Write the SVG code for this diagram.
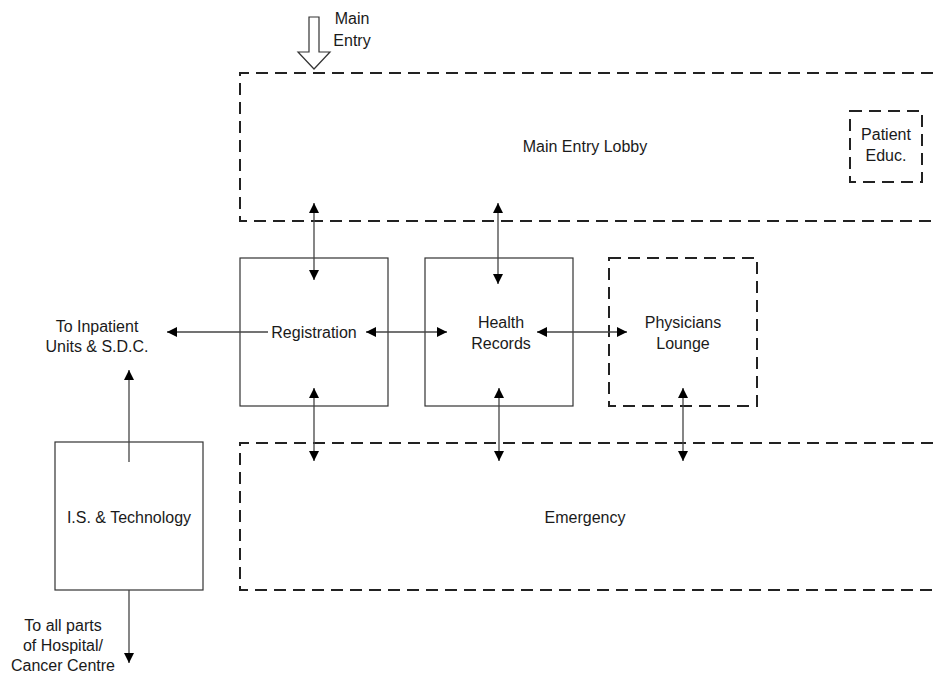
<svg xmlns="http://www.w3.org/2000/svg" width="933" height="675" viewBox="0 0 933 675">
<defs>
<style>
.box{fill:none;stroke:#333;stroke-width:1.2}
.dash{fill:none;stroke:#222;stroke-width:2;stroke-dasharray:12 7}
.ln{fill:none;stroke:#444;stroke-width:1.3}
.t{font-family:"Liberation Sans",Arial,sans-serif;font-size:16px;fill:#1a1a1a;text-anchor:middle}
</style>
<marker id="ah" viewBox="0 0 10 10" refX="10" refY="5" markerWidth="10" markerHeight="10" markerUnits="userSpaceOnUse" orient="auto-start-reverse">
<path d="M0,0 L10,5 L0,10 Z" fill="#000"/>
</marker>
</defs>
<rect width="933" height="675" fill="#fff"/>

<g id="main-entry">
<path d="M309,17 H319 V52 H330 L314,69 L298,52 H309 Z" fill="#fff" stroke="#333" stroke-width="1.2"/>
<text class="t" x="352" y="24">Main</text>
<text class="t" x="352" y="46">Entry</text>
</g>

<g id="lobby">
<path class="dash" d="M933,73 H240 V221 H933"/>
<text class="t" x="585" y="152">Main Entry Lobby</text>
</g>

<g id="patient-educ">
<rect class="dash" x="850" y="111" width="72" height="71"/>
<text class="t" x="886" y="140">Patient</text>
<text class="t" x="886" y="161">Educ.</text>
</g>

<g id="registration">
<rect class="box" x="240" y="258" width="148" height="148"/>
<text class="t" x="314" y="338">Registration</text>
</g>

<g id="health-records">
<rect class="box" x="425" y="258" width="148" height="148"/>
<text class="t" x="501" y="328">Health</text>
<text class="t" x="501" y="349">Records</text>
</g>

<g id="physicians-lounge">
<rect class="dash" x="609" y="258" width="148" height="148"/>
<text class="t" x="683" y="328">Physicians</text>
<text class="t" x="683" y="349">Lounge</text>
</g>

<g id="emergency">
<path class="dash" d="M933,443 H240 V590 H933"/>
<text class="t" x="585" y="523">Emergency</text>
</g>

<g id="is-tech">
<rect class="box" x="55" y="442" width="148" height="148"/>
<text class="t" x="129" y="523">I.S. &amp; Technology</text>
</g>

<g id="inpatient-label">
<text class="t" x="97" y="332">To Inpatient</text>
<text class="t" x="97" y="352">Units &amp; S.D.C.</text>
</g>

<g id="all-parts-label">
<text class="t" x="63" y="631">To all parts</text>
<text class="t" x="63" y="651">of Hospital/</text>
<text class="t" x="63" y="671">Cancer Centre</text>
</g>

<g id="connectors">
<line class="ln" x1="268" y1="332" x2="167" y2="332" marker-end="url(#ah)"/>
<line class="ln" x1="366" y1="332" x2="447" y2="332" marker-start="url(#ah)" marker-end="url(#ah)"/>
<line class="ln" x1="537" y1="332" x2="627" y2="332" marker-start="url(#ah)" marker-end="url(#ah)"/>
<line class="ln" x1="314" y1="203" x2="314" y2="280" marker-start="url(#ah)" marker-end="url(#ah)"/>
<line class="ln" x1="498" y1="203" x2="498" y2="284" marker-start="url(#ah)" marker-end="url(#ah)"/>
<line class="ln" x1="314" y1="388" x2="314" y2="461" marker-start="url(#ah)" marker-end="url(#ah)"/>
<line class="ln" x1="499" y1="388" x2="499" y2="461" marker-start="url(#ah)" marker-end="url(#ah)"/>
<line class="ln" x1="683" y1="388" x2="683" y2="461" marker-start="url(#ah)" marker-end="url(#ah)"/>
<line class="ln" x1="129" y1="462" x2="129" y2="370" marker-end="url(#ah)"/>
<line class="ln" x1="129" y1="590" x2="129" y2="663" marker-end="url(#ah)"/>
</g>
</svg>
